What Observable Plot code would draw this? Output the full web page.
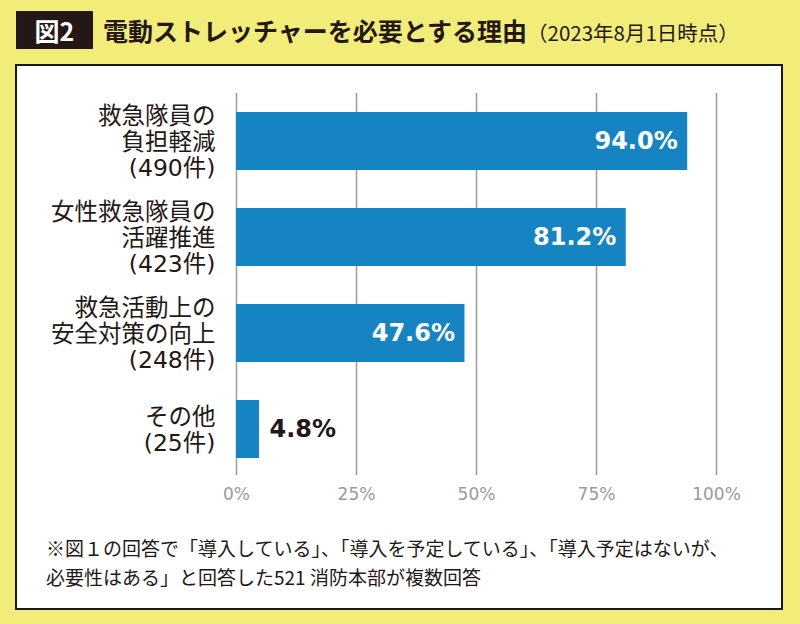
<!DOCTYPE html>
<html>
<head>
<meta charset="utf-8">
<script src="https://cdn.jsdelivr.net/npm/d3@7"></script>
<script src="https://cdn.jsdelivr.net/npm/@observablehq/plot@0.6"></script>
<style>
  html, body { margin: 0; padding: 0; }
  #page { position: relative; width: 800px; height: 624px; background: #f2ec78; overflow: hidden; font-family: "Noto Sans CJK JP", sans-serif; color: #231815; }
  #badge { position: absolute; left: 16px; top: 11px; width: 77px; height: 38px; background: #231815; color: #fff; font-weight: 700; font-size: 25px; line-height: 38px; text-align: center; }
  #title { position: absolute; left: 103px; top: 11px; height: 38px; line-height: 38px; white-space: nowrap; }
  #title b { font-size: 25px; font-weight: 700; }
  #title span { font-size: 20.5px; font-weight: 400; }
  #panel { position: absolute; left: 15px; top: 64px; width: 764px; height: 542px; background: #fff; border: 2px solid #1a1a1a; }
  #chart { position: absolute; left: 0; top: 0; }
  .note { position: absolute; left: 46px; font-size: 19px; line-height: 22px; height: 22px; white-space: nowrap; }
</style>
</head>
<body>
<div id="page">
  <div id="badge">図2</div>
  <div id="title"><b>電動ストレッチャーを必要とする理由</b><span>（2023年8月1日時点）</span></div>
  <div id="panel"></div>
  <div id="chart"></div>
</div>
<script>
const categories = ["救急隊員の\n負担軽減\n(490件)", "女性救急隊員の\n活躍推進\n(423件)", "救急活動上の\n安全対策の向上\n(248件)", "その他\n(25件)"];
const values = [94.0, 81.2, 47.6, 4.8];
const tickValues = [0, 25, 50, 75, 100];
const noteLines = ["※図１の回答で「導入している」、「導入を予定している」、「導入予定はないが、", "必要性はある」と回答した521 消防本部が複数回答"];

const page = document.getElementById("page");
noteLines.forEach((t, i) => {
  const d = document.createElement("div");
  d.className = "note";
  d.style.top = (537 + i * 29) + "px";
  d.textContent = t;
  page.appendChild(d);
});

const data = categories.map((c, i) => ({cat: c, value: values[i]}));
const blue = "#1684c3";
const numFont = "DejaVu Sans, Noto Sans CJK JP, sans-serif";

const chart = Plot.plot({
  width: 800,
  height: 520,
  marginLeft: 236,
  marginRight: 84,
  marginTop: 93,
  marginBottom: 45,
  style: {background: "transparent", fontFamily: "Noto Sans CJK JP, sans-serif"},
  x: {domain: [0, 100], axis: null},
  y: {domain: categories, range: [93, 477], paddingInner: 0.396, paddingOuter: 0.198, axis: null},
  marks: [
    Plot.ruleX(tickValues, {stroke: "#9d9d9d", strokeWidth: 1.5}),
    Plot.barX(data, {x: "value", y: "cat", fill: blue}),
    Plot.text(data, {x: 0, y: "cat", text: "cat", textAnchor: "end", dx: -21, fontSize: 23.5, lineHeight: 1.11, fill: "#231815", fontFamily: numFont}),
    Plot.text(data.filter(d => d.value >= 10), {x: "value", y: "cat", text: d => d.value.toFixed(1) + "%", textAnchor: "end", dx: -10, fill: "#fff", fontSize: 24, fontWeight: "bold", fontFamily: numFont}),
    Plot.text(data.filter(d => d.value < 10), {x: "value", y: "cat", text: d => d.value.toFixed(1) + "%", textAnchor: "start", dx: 10, fill: "#231815", fontSize: 24, fontWeight: "bold", fontFamily: numFont}),
    Plot.axisX({ticks: tickValues, tickFormat: d => d + "%", tickSize: 0, tickPadding: 12, fontSize: 17, fill: "#9a9a9a", fontFamily: "DejaVu Sans, sans-serif", label: null})
  ]
});
document.getElementById("chart").appendChild(chart);
</script>
</body>
</html>
